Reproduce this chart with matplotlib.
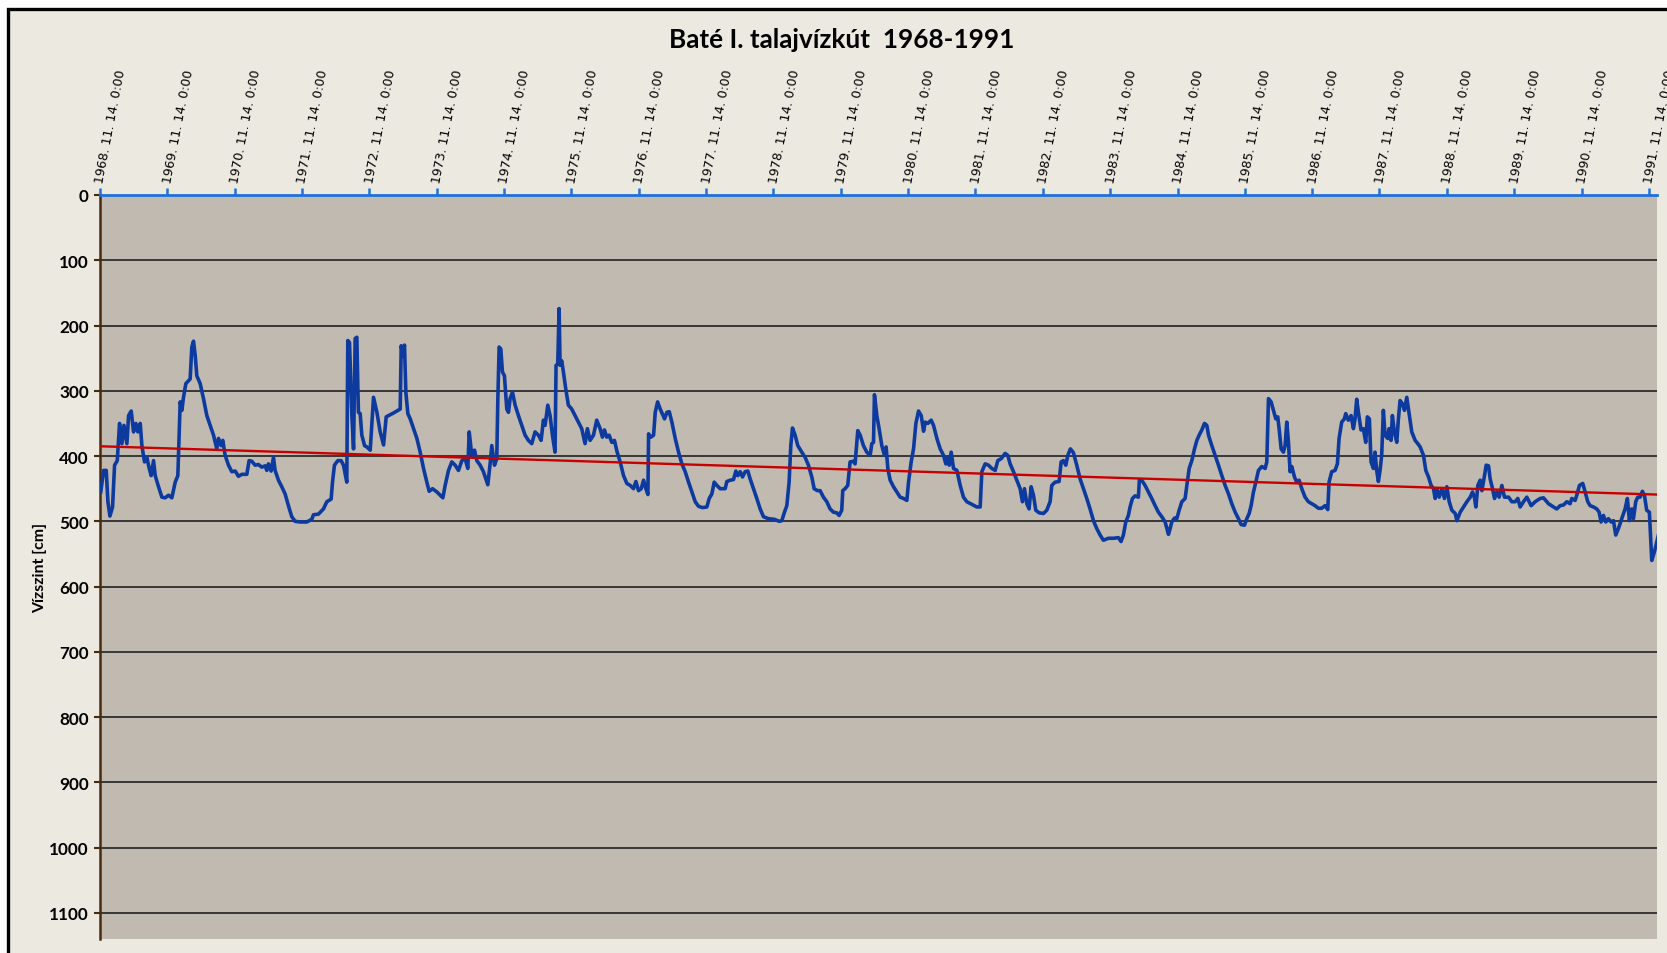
import matplotlib
matplotlib.use("Agg")
import matplotlib.pyplot as plt
import matplotlib.patches as patches
from datetime import datetime

# groundwater level (cm below surface), dates as decimal years
t_years = [
    1968.880, 1968.922, 1968.961, 1968.986, 1969.016, 1969.055, 1969.085, 1969.125, 1969.159, 1969.194,
    1969.224, 1969.268, 1969.293, 1969.332, 1969.367, 1969.402, 1969.431, 1969.466, 1969.491, 1969.530,
    1969.565, 1969.600, 1969.629, 1969.664, 1969.689, 1969.738, 1969.788, 1969.837, 1969.887, 1969.936,
    1969.986, 1970.025, 1970.060, 1970.085, 1970.109, 1970.144, 1970.208, 1970.233, 1970.258, 1970.283,
    1970.307, 1970.357, 1970.406, 1970.456, 1970.505, 1970.555, 1970.604, 1970.629, 1970.669, 1970.693,
    1970.728, 1970.778, 1970.827, 1970.877, 1970.926, 1970.976, 1971.050, 1971.084, 1971.124, 1971.174,
    1971.223, 1971.273, 1971.322, 1971.347, 1971.371, 1971.411, 1971.446, 1971.470, 1971.520, 1971.569,
    1971.619, 1971.668, 1971.718, 1971.767, 1971.842, 1971.941, 1972.015, 1972.040, 1972.114, 1972.188,
    1972.238, 1972.302, 1972.322, 1972.351, 1972.401, 1972.450, 1972.485, 1972.510, 1972.534, 1972.549,
    1972.574, 1972.609, 1972.634, 1972.658, 1972.683,
    1972.698, 1972.707, 1972.732, 1972.757, 1972.797, 1972.831, 1972.881, 1972.930, 1972.980, 1973.029,
    1973.079, 1973.118, 1973.153, 1973.227, 1973.326, 1973.341, 1973.366, 1973.390, 1973.410, 1973.440,
    1973.475, 1973.524, 1973.574, 1973.623, 1973.673, 1973.722, 1973.757, 1973.806, 1973.871, 1973.920,
    1973.960, 1973.994, 1974.044, 1974.093, 1974.143, 1974.192, 1974.242, 1974.291, 1974.331, 1974.351,
    1974.390, 1974.430, 1974.464, 1974.514, 1974.563, 1974.628, 1974.662, 1974.687, 1974.727, 1974.761,
    1974.776, 1974.796, 1974.821, 1974.845, 1974.875, 1974.910, 1974.935, 1974.959, 1974.994, 1975.034,
    1975.083, 1975.133, 1975.182, 1975.231, 1975.281, 1975.330, 1975.380, 1975.420, 1975.454, 1975.479,
    1975.519, 1975.553, 1975.588, 1975.627, 1975.642, 1975.667, 1975.687, 1975.702, 1975.726, 1975.751,
    1975.786, 1975.825, 1975.875, 1975.924, 1975.974, 1976.023, 1976.073, 1976.107, 1976.147, 1976.197,
    1976.246, 1976.296, 1976.330, 1976.360, 1976.394, 1976.429, 1976.469, 1976.508, 1976.548,
    1976.593, 1976.643, 1976.692, 1976.742, 1976.791, 1976.826, 1976.865, 1976.905, 1976.940, 1976.974,
    1977.004, 1977.014, 1977.049, 1977.088, 1977.113, 1977.148, 1977.187, 1977.251, 1977.286, 1977.321,
    1977.360, 1977.410, 1977.459, 1977.509, 1977.558, 1977.608, 1977.657, 1977.707, 1977.756, 1977.816,
    1977.880, 1977.915, 1977.954, 1977.989, 1978.028, 1978.078, 1978.152, 1978.177, 1978.226, 1978.276,
    1978.311, 1978.340, 1978.375, 1978.410, 1978.449, 1978.489, 1978.523, 1978.573, 1978.622, 1978.672,
    1978.721, 1978.796, 1978.885, 1978.954, 1978.994, 1979.033, 1979.068, 1979.102, 1979.127, 1979.152,
    1979.191, 1979.231, 1979.290, 1979.340, 1979.389, 1979.439, 1979.474, 1979.523, 1979.563, 1979.612,
    1979.662, 1979.711, 1979.761, 1979.810, 1979.845, 1979.884, 1979.899, 1979.934, 1979.973, 1979.993,
    1980.008, 1980.058, 1980.082, 1980.122, 1980.157, 1980.206, 1980.255, 1980.305, 1980.330, 1980.355,
    1980.369,
    1980.404, 1980.438, 1980.478, 1980.518, 1980.542, 1980.567, 1980.602, 1980.651, 1980.701, 1980.750,
    1980.800, 1980.849, 1980.874, 1980.913, 1980.948, 1980.983, 1981.022, 1981.062, 1981.097, 1981.121,
    1981.161, 1981.210, 1981.245, 1981.295, 1981.344, 1981.394, 1981.428, 1981.458, 1981.478, 1981.507,
    1981.542, 1981.592, 1981.641, 1981.690, 1981.740, 1981.814, 1981.888, 1981.938, 1981.963, 1982.012,
    1982.062, 1982.111, 1982.161, 1982.200, 1982.250, 1982.309, 1982.349, 1982.383, 1982.433, 1982.482,
    1982.532, 1982.566, 1982.596, 1982.631, 1982.665, 1982.695, 1982.730, 1982.764, 1982.814, 1982.878,
    1982.928, 1982.977, 1983.002, 1983.051, 1983.111, 1983.141, 1983.175, 1983.210, 1983.240, 1983.279,
    1983.324, 1983.373, 1983.423, 1983.472, 1983.522, 1983.571, 1983.621, 1983.670, 1983.720, 1983.769,
    1983.843, 1983.918, 1983.992, 1984.031, 1984.066, 1984.101, 1984.140, 1984.165, 1984.200, 1984.239,
    1984.288, 1984.303, 1984.338, 1984.387, 1984.437, 1984.486, 1984.536, 1984.585, 1984.635, 1984.684,
    1984.734, 1984.759, 1984.783, 1984.823, 1984.858, 1984.892, 1984.932, 1984.981, 1985.006, 1985.041,
    1985.080, 1985.120, 1985.155, 1985.189, 1985.229, 1985.268, 1985.303, 1985.328, 1985.377, 1985.427,
    1985.476, 1985.526, 1985.575, 1985.625, 1985.674, 1985.724, 1985.773, 1985.813, 1985.862, 1985.897,
    1985.932, 1985.961, 1985.996, 1986.031, 1986.070, 1986.120, 1986.169, 1986.194, 1986.219, 1986.258,
    1986.293, 1986.328, 1986.357, 1986.377, 1986.407, 1986.441, 1986.466, 1986.491, 1986.516, 1986.540,
    1986.565, 1986.605, 1986.639, 1986.674, 1986.714, 1986.763, 1986.812, 1986.862, 1986.911, 1986.961,
    1987.010, 1987.060, 1987.100, 1987.119, 1987.159, 1987.208, 1987.243, 1987.268, 1987.307, 1987.347,
    1987.367, 1987.406, 1987.446, 1987.481, 1987.505, 1987.530, 1987.555, 1987.594, 1987.629, 1987.664,
    1987.688, 1987.718, 1987.743, 1987.778, 1987.802, 1987.827, 1987.852, 1987.877, 1987.901, 1987.926,
    1987.951, 1987.990, 1988.010, 1988.040, 1988.060, 1988.089,
    1988.125, 1988.149, 1988.174, 1988.209, 1988.239, 1988.273, 1988.308, 1988.347, 1988.397, 1988.437,
    1988.471, 1988.521, 1988.555, 1988.595, 1988.634, 1988.669, 1988.694, 1988.719, 1988.753, 1988.793,
    1988.832, 1988.867, 1988.902, 1988.941, 1988.991, 1989.016, 1989.065, 1989.115, 1989.164, 1989.214,
    1989.248, 1989.278, 1989.298, 1989.327, 1989.362, 1989.387, 1989.426, 1989.451, 1989.486, 1989.510,
    1989.545, 1989.575, 1989.609, 1989.644, 1989.684, 1989.723, 1989.783, 1989.832, 1989.882, 1989.921,
    1989.956, 1990.005, 1990.055, 1990.119, 1990.179, 1990.253, 1990.302, 1990.377, 1990.451, 1990.500,
    1990.550, 1990.599, 1990.649, 1990.698, 1990.723, 1990.772, 1990.797, 1990.837, 1990.886, 1990.921,
    1990.961, 1990.995, 1991.045, 1991.094, 1991.129, 1991.158, 1991.193, 1991.228, 1991.267, 1991.307,
    1991.342, 1991.376, 1991.416, 1991.465, 1991.515, 1991.549, 1991.579, 1991.614, 1991.639, 1991.673,
    1991.703, 1991.738, 1991.772, 1991.802, 1991.836, 1991.876, 1991.911, 1991.950, 1991.985, 1992.010,
]

level_cm = [
    455, 422, 422, 470, 492, 478, 414, 407, 350, 381,
    353, 381, 338, 331, 363, 350, 363, 350, 384, 409,
    402, 419, 430, 407, 430, 447, 463, 464, 460, 464,
    440, 430, 317, 330, 310, 289, 282, 233, 224, 246,
    277, 289, 312, 338, 353, 368, 389, 373, 384, 376,
    399, 414, 424, 423, 431, 428, 428, 407, 408, 414,
    413, 417, 415, 422, 412, 423, 402, 422, 437, 447,
    458, 476, 493, 500, 501, 501, 497, 490, 489, 481,
    470, 466, 440, 414, 407, 407, 414, 427, 440, 223,
    226, 338, 389, 220, 218,
    297, 333, 335, 368, 384, 386, 391, 310, 333, 363,
    383, 340, 338, 334, 328, 231, 246, 230, 302, 335,
    343, 358, 373, 394, 419, 440, 454, 450, 455, 460,
    464, 445, 422, 409, 414, 422, 407, 404, 419, 363,
    399, 391, 407, 414, 424, 444, 412, 384, 414, 404,
    317, 233, 236, 271, 277, 328, 333, 312, 302, 322,
    338, 353, 368, 376, 381, 363, 368, 376, 345, 353,
    322, 338, 368, 394, 261, 259, 174, 261, 254, 271,
    297, 322, 328, 338, 348, 358, 381, 358, 376, 368,
    345, 358, 371, 360, 371, 368, 379, 376, 394,
    409, 430, 442, 445, 450, 439, 453, 450, 437, 450,
    459, 366, 371, 368, 333, 317, 328, 343, 333, 332,
    348, 373, 394, 412, 424, 440, 455, 470, 477, 479,
    478, 465, 458, 440, 445, 450, 450, 439, 437, 436,
    423, 430, 424, 432, 424, 423, 435, 450, 465, 481,
    493, 496, 497, 500, 499, 486, 476, 440, 384, 357,
    368, 384, 394, 402, 414, 432, 450, 453, 453, 463,
    470, 481, 486, 487, 491, 483, 453, 450, 445, 424,
    409, 408, 412, 361, 368, 384, 394, 399, 381, 379,
    306,
    338, 358, 384, 399, 386, 419, 437, 447, 455, 463,
    465, 468, 440, 409, 389, 350, 331, 338, 362, 348,
    350, 345, 353, 373, 389, 399, 412, 402, 414, 394,
    419, 422, 445, 463, 470, 474, 478, 478, 424, 412,
    414, 419, 422, 407, 404, 396, 399, 412, 424, 437,
    450, 470, 450, 473, 481, 447, 460, 483, 487, 488,
    483, 470, 445, 440, 439, 409, 407, 414, 399, 389,
    395, 414, 435, 450, 465, 481, 499, 511, 521, 529,
    526, 526, 525, 531, 521, 501, 491, 478, 465, 461,
    463, 436, 437, 445, 455, 465, 476, 486, 493, 501,
    520, 511, 501, 495, 496, 483, 470, 465, 445, 419,
    407, 389, 376, 368, 360, 350, 353, 368, 384, 399,
    414, 430, 445, 458, 473, 486, 496, 505, 506, 496,
    488, 476, 455, 440, 422, 416, 419, 409, 312, 317,
    330, 343, 340, 358, 389, 394, 384, 348, 379, 424,
    416, 432, 440, 437, 450, 463, 470, 473, 476, 480,
    480, 476, 482, 440, 424, 422, 412, 373, 348, 343,
    335, 345, 338, 358, 343, 313, 333, 360, 358, 379,
    340, 343, 409, 419, 394, 422, 439, 422, 399, 330,
    368, 373, 358, 376, 338, 363,
    379, 343, 315, 320, 330, 310, 335, 363, 376, 381,
    386, 399, 422, 432, 445, 450, 465, 450, 463, 450,
    465, 447, 470, 483, 488, 499, 486, 478, 470, 463,
    455, 464, 478, 445, 437, 453, 430, 414, 415, 435,
    450, 465, 455, 463, 445, 463, 463, 470, 470, 465,
    478, 470, 463, 476, 470, 465, 464, 473, 478, 481,
    476, 475, 470, 473, 465, 468, 460, 445, 442, 455,
    470, 476, 478, 481, 486, 501, 491, 501, 496, 501,
    499, 521, 511, 496, 481, 465, 499, 481, 496, 470,
    463, 463, 454, 460, 483, 486, 560, 547, 532, 521,
]

# linear trend (Excel trendline) end values
trend_cm = [385, 459]

tick_years = list(range(1968, 1992))
y_ticks = [0, 100, 200, 300, 400, 500, 600, 700, 800, 900, 1000, 1100]

title = "Baté I. talajvízkút  1968-1991"
ylabel = "Vízszint [cm]"


def year_to_date(y):
    yr = int(y)
    start = datetime(yr, 1, 1)
    end = datetime(yr + 1, 1, 1)
    return start + (end - start) * (y - yr)


dates = [year_to_date(y) for y in t_years]
x_start = datetime(1968, 11, 14)
x_end = datetime(1991, 12, 28)

W, H = 1667, 954
fig = plt.figure(figsize=(W / 100, H / 100), dpi=100, facecolor="white")

# beige panel with black frame (cropped on the right/bottom)
frame = patches.Rectangle((8 / W, -0.05), 1.2, 1 - 10 / H + 0.05,
                          transform=fig.transFigure, facecolor="#ECE9E1",
                          edgecolor="black", linewidth=2.4, zorder=-10)
fig.patches.append(frame)

ax = fig.add_axes([100 / W, 1 - 940 / H, (1657 - 100) / W, (940 - 196) / H])
ax.set_facecolor("#C1BAB0")

ax.plot(dates, level_cm, color="#0D3A9E", linewidth=2.6, zorder=3)
ax.plot([x_start, x_end], trend_cm, color="#C80000", linewidth=1.7, zorder=4)

ax.set_xlim(x_start, x_end)
ax.set_ylim(1140, 0)

# y axis
ax.set_yticks(y_ticks)
ax.set_yticklabels([str(v) for v in y_ticks], fontfamily="Lato",
                   fontweight="bold", fontsize=12.3)
ax.yaxis.grid(True, color="#141414", linewidth=1.1)
ax.set_axisbelow(True)
ax.tick_params(axis="y", colors="#4A2A0C", length=4, width=1.5, pad=4,
               labelcolor="black")

# x axis on top
ax.xaxis.tick_top()
ax.set_xticks([datetime(y, 11, 14) for y in tick_years])
ax.set_xticklabels([f"{y}. 11. 14. 0:00" for y in tick_years],
                   fontfamily="DejaVu Sans", fontsize=9.0,
                   rotation=79, rotation_mode="anchor", ha="left", va="center")
ax.tick_params(axis="x", colors="#1F6FE0", length=5, width=1.8, pad=4,
               labelcolor="black")

for side in ["right", "bottom"]:
    ax.spines[side].set_visible(False)
ax.spines["top"].set_color("#1F6FE0")
ax.spines["top"].set_linewidth(2.0)
ax.spines["left"].set_color("#4A2A0C")
ax.spines["left"].set_linewidth(1.8)

fig.text(842 / W, 1 - 40 / H, title, ha="center", va="center",
         fontfamily="Lato", fontweight="bold", fontsize=18.8)
fig.text(40 / W, 1 - 568 / H, ylabel, ha="center", va="center", rotation=90,
         fontfamily="Lato", fontweight="bold", fontsize=11.4)

fig.savefig("out.png", dpi=100, facecolor=fig.get_facecolor())
